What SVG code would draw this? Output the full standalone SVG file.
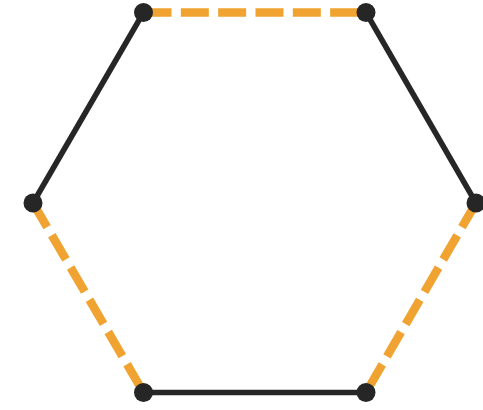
<svg xmlns="http://www.w3.org/2000/svg" width="483" height="410" viewBox="0 0 483 410">
<style>
.solid{stroke:#262626;stroke-width:5.5;fill:none;stroke-linecap:butt}
.dash{stroke:#F0A330;stroke-width:8.5;fill:none;stroke-dasharray:28 9.33}
.node{fill:#262626}
</style>
<rect width="483" height="410" fill="#fff"/>
<g id="connectors">
<line class="dash" x1="143.5" y1="12.5" x2="366" y2="12.5"/>
<line class="solid" x1="366" y1="12.5" x2="476" y2="203"/>
<line class="dash" x1="476" y1="203" x2="366" y2="392.5"/>
<line class="solid" x1="366" y1="392.5" x2="143.5" y2="392.5"/>
<line class="dash" x1="33" y1="203" x2="143.5" y2="392.5"/>
<line class="solid" x1="33" y1="203" x2="143.5" y2="12.5"/>
</g>
<g id="n1"><circle class="node" cx="143.5" cy="12.5" r="9.5"/></g>
<g id="n2"><circle class="node" cx="366" cy="12.5" r="9.5"/></g>
<g id="n3"><circle class="node" cx="476" cy="203" r="9.5"/></g>
<g id="n4"><circle class="node" cx="366" cy="392.5" r="9.5"/></g>
<g id="n5"><circle class="node" cx="143.5" cy="392.5" r="9.5"/></g>
<g id="n6"><circle class="node" cx="33" cy="203" r="9.5"/></g>
</svg>
